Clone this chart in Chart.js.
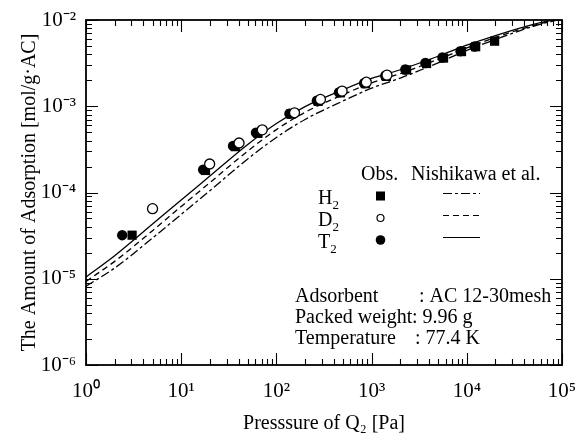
<!DOCTYPE html>
<html>
<head>
<meta charset="utf-8">
<script src="https://cdn.jsdelivr.net/npm/chart.js@4.4.1/dist/chart.umd.min.js"></script>
<style>
html,body{margin:0;padding:0;background:#fff;}
#wrap{width:585px;height:438px;position:relative;}
</style>
</head>
<body>
<div id="wrap"><canvas id="c" width="585" height="438"></canvas></div>
<script>
// ---------- data ----------
const modelPressure = [1, 2, 5, 10, 20, 50, 100, 200, 500, 1000, 2000, 5000, 10000, 20000, 50000, 100000];
const modelH2 = [8.2e-6, 1.33e-5, 2.97e-5, 5.58e-5, 1.05e-4, 2.45e-4, 4.35e-4, 7.03e-4, 1.15e-3, 1.62e-3, 2.12e-3, 3.19e-3, 4.44e-3, 5.94e-3, 8.46e-3, 1.03e-2];
const modelD2 = [9.3e-6, 1.59e-5, 3.61e-5, 6.89e-5, 1.30e-4, 3.02e-4, 5.36e-4, 8.51e-4, 1.36e-3, 1.87e-3, 2.39e-3, 3.50e-3, 4.74e-3, 6.27e-3, 8.63e-3, 1.04e-2];
const modelT2 = [1.05e-5, 1.85e-5, 4.3e-5, 8.2e-5, 1.55e-4, 3.6e-4, 6.3e-4, 9.9e-4, 1.55e-3, 2.1e-3, 2.65e-3, 3.8e-3, 5.1e-3, 6.6e-3, 8.9e-3, 1.05e-2];

const obsH2Pressure = [3.05, 18, 37, 64, 142, 275, 470, 860, 1430, 2330, 3780, 5700, 8800, 12400, 19600];
const obsH2 = [3.2e-5, 1.8e-4, 3.4e-4, 4.85e-4, 8.1e-4, 1.14e-3, 1.43e-3, 1.83e-3, 2.22e-3, 2.64e-3, 3.13e-3, 3.62e-3, 4.3e-3, 4.9e-3, 5.68e-3];
const obsD2Pressure = [5.0, 19.9, 40.5, 71, 155, 290, 490, 880, 1450];
const obsD2 = [6.5e-5, 2.14e-4, 3.75e-4, 5.33e-4, 8.4e-4, 1.2e-3, 1.5e-3, 1.9e-3, 2.3e-3];
const obsT2Pressure = [2.4, 17, 35, 61, 137, 266, 454, 834, 1390, 2260, 3670, 5550, 8590, 12080];
const obsT2 = [3.2e-5, 1.84e-4, 3.47e-4, 4.94e-4, 8.2e-4, 1.16e-3, 1.45e-3, 1.85e-3, 2.25e-3, 2.67e-3, 3.17e-3, 3.67e-3, 4.35e-3, 4.93e-3];

const xTickLabels = ['10\u2070', '10\u00b9', '10\u00b2', '10\u00b3', '10\u2074', '10\u2075'];
const yTickLabels = ['10\u207b\u2076', '10\u207b\u2075', '10\u207b\u2074', '10\u207b\u00b3', '10\u207b\u00b2'];
const xTitle = 'Presssure of Q\u2082 [Pa]';
const yTitle = 'The Amount of Adsorption [mol/g\u00b7AC]';
const legendHeader = ['Obs.', 'Nishikawa et al.'];
const legendNames = ['H', 'D', 'T'];
const legendSub = '2';
const infoLabels = ['Adsorbent', 'Packed weight', 'Temperature'];
const infoValues = [': AC 12-30mesh', ': 9.96 g', ': 77.4 K'];

// ---------- helpers ----------
const pts = (xs, ys) => xs.map((v, i) => ({x: v, y: ys[i]}));
const isPow10 = v => { const e = Math.log10(v); return Math.abs(e - Math.round(e)) < 1e-9; };
function allLogTicks(scale) {
  const out = [];
  const e0 = Math.round(Math.log10(scale.min)), e1 = Math.round(Math.log10(scale.max));
  for (let e = e0; e <= e1; e++) {
    for (let m = 1; m <= 9; m++) {
      const v = m * Math.pow(10, e);
      if (v <= scale.max * 1.0000001) out.push({value: v});
    }
  }
  scale.ticks = out;
}
const FONT = 'Liberation Serif, Times New Roman, serif';
const BLACK = '#000';

// ---------- custom drawing: frame, inward ticks, legend table, info text ----------
const decorPlugin = {
  id: 'decor',
  afterDraw(chart) {
    const {ctx, chartArea: a, scales: {x, y}} = chart;
    ctx.save();
    ctx.strokeStyle = BLACK;
    ctx.lineWidth = 1.1;
    ctx.beginPath();
    x.ticks.forEach(t => {
      const p = Math.round(x.getPixelForValue(t.value)) + 0.5;
      if (p < a.left - 1 || p > a.right + 1) return;
      const L = isPow10(t.value) ? 12 : 6;
      ctx.moveTo(p, a.bottom); ctx.lineTo(p, a.bottom - L);
      ctx.moveTo(p, a.top); ctx.lineTo(p, a.top + L);
    });
    y.ticks.forEach(t => {
      const p = Math.round(y.getPixelForValue(t.value)) + 0.5;
      if (p < a.top - 1 || p > a.bottom + 1) return;
      const L = isPow10(t.value) ? 12 : 6;
      ctx.moveTo(a.left, p); ctx.lineTo(a.left + L, p);
      ctx.moveTo(a.right, p); ctx.lineTo(a.right - L, p);
    });
    ctx.stroke();
    ctx.lineWidth = 1.8;
    ctx.strokeRect(a.left, a.top, a.right - a.left, a.bottom - a.top);

    // legend table
    ctx.fillStyle = BLACK;
    ctx.textBaseline = 'alphabetic';
    ctx.textAlign = 'left';
    ctx.font = '20px ' + FONT;
    ctx.fillText(legendHeader[0], 361, 180);
    ctx.fillText(legendHeader[1], 411, 180);
    const rowBase = [204, 226, 248];
    const dashes = [[9, 3, 3, 3], [6, 4], []];
    rowBase.forEach((b, i) => {
      ctx.font = '20px ' + FONT;
      ctx.fillText(legendNames[i], 318, b);
      const w = ctx.measureText(legendNames[i]).width;
      ctx.font = '13px ' + FONT;
      ctx.fillText(legendSub, 318 + w, b + 5);
      // marker
      const my = b - 8;
      ctx.lineWidth = 1.2;
      if (i === 0) {
        ctx.fillRect(376, my - 4.5, 9, 9);
      } else if (i === 1) {
        ctx.beginPath(); ctx.arc(380.5, my, 3.5, 0, Math.PI * 2);
        ctx.fillStyle = '#fff'; ctx.fill(); ctx.fillStyle = BLACK; ctx.stroke();
      } else {
        ctx.beginPath(); ctx.arc(380.5, my, 4.8, 0, Math.PI * 2); ctx.fill();
      }
      // line sample
      ctx.setLineDash(dashes[i]);
      ctx.lineWidth = 1.2;
      ctx.beginPath(); ctx.moveTo(443, b - 10.5); ctx.lineTo(480, b - 10.5); ctx.stroke();
      ctx.setLineDash([]);
    });

    // experimental conditions
    ctx.font = '20px ' + FONT;
    const infoBase = [302, 323, 344];
    const valueX = [419, 412, 415];
    infoBase.forEach((b, i) => {
      ctx.fillText(infoLabels[i], 295, b);
      ctx.fillText(infoValues[i], valueX[i], b);
    });
    ctx.restore();
  }
};

const lineBase = {showLine: true, pointRadius: 0, pointHoverRadius: 0, borderColor: BLACK, borderWidth: 1.3, fill: false, tension: 0.35, cubicInterpolationMode: 'monotone'};

new Chart(document.getElementById('c'), {
  type: 'scatter',
  data: {
    datasets: [
      Object.assign({label: 'H2 Nishikawa', data: pts(modelPressure, modelH2), borderDash: [9, 3, 3, 3], order: 6}, lineBase),
      Object.assign({label: 'D2 Nishikawa', data: pts(modelPressure, modelD2), borderDash: [6, 4], order: 5}, lineBase),
      Object.assign({label: 'T2 Nishikawa', data: pts(modelPressure, modelT2), order: 4}, lineBase),
      {label: 'H2 Obs.', data: pts(obsH2Pressure, obsH2), pointStyle: 'rect', pointRadius: 6.5, backgroundColor: BLACK, borderColor: BLACK, borderWidth: 0, showLine: false, order: 3},
      {label: 'T2 Obs.', data: pts(obsT2Pressure, obsT2), pointStyle: 'circle', pointRadius: 5.2, backgroundColor: BLACK, borderColor: BLACK, borderWidth: 0, showLine: false, order: 2},
      {label: 'D2 Obs.', data: pts(obsD2Pressure, obsD2), pointStyle: 'circle', pointRadius: 5, backgroundColor: '#fff', borderColor: BLACK, borderWidth: 1.3, showLine: false, order: 1}
    ]
  },
  options: {
    responsive: false,
    animation: false,
    devicePixelRatio: 1,
    layout: {padding: {left: 0, right: 23, top: 20, bottom: 0}},
    plugins: {legend: {display: false}, tooltip: {enabled: false}},
    scales: {
      x: {
        type: 'logarithmic', position: 'bottom', min: 1, max: 100000,
        afterBuildTicks: allLogTicks,
        afterFit: s => { s.height = 73; s.paddingLeft = 0; s.paddingRight = 0; },
        grid: {display: false, drawTicks: false},
        border: {display: false},
        ticks: {
          autoSkip: false, maxRotation: 0, minRotation: 0, padding: 14, color: BLACK,
          font: {family: FONT, size: 21},
          callback: v => isPow10(v) ? xTickLabels[Math.round(Math.log10(v))] : ''
        },
        title: {display: true, text: xTitle, color: BLACK, font: {family: FONT, size: 20}, padding: {top: 0, bottom: 2}}
      },
      y: {
        type: 'logarithmic', position: 'left', min: 1e-6, max: 1e-2,
        afterBuildTicks: allLogTicks,
        afterFit: s => { s.width = 86; s.paddingTop = 0; s.paddingBottom = 0; },
        grid: {display: false, drawTicks: false},
        border: {display: false},
        ticks: {
          autoSkip: false, padding: 10, color: BLACK,
          font: {family: FONT, size: 21},
          callback: v => isPow10(v) ? yTickLabels[Math.round(Math.log10(v)) + 6] : ''
        },
        title: {display: true, text: yTitle, color: BLACK, font: {family: FONT, size: 20}, padding: {top: 18, bottom: 0}}
      }
    }
  },
  plugins: [decorPlugin]
});
</script>
</body>
</html>
